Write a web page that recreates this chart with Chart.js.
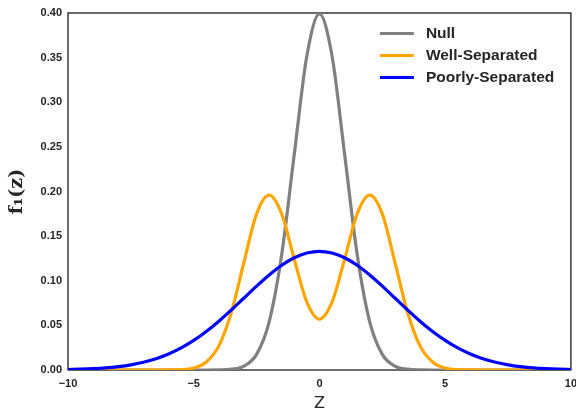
<!DOCTYPE html>
<html>
<head>
<meta charset="utf-8">
<script src="https://cdn.jsdelivr.net/npm/chart.js@4.4.1/dist/chart.umd.min.js"></script>
<style>
  html, body { margin: 0; padding: 0; overflow: hidden; background: #fff; }
  #wrap { width: 584px; height: 416px; }
</style>
</head>
<body>
<div id="wrap"><canvas id="chart"></canvas></div>
<script>
// z grid (step 0.5) and the three densities
const zValues = [-10, -9.5, -9, -8.5, -8, -7.5, -7, -6.5, -6, -5.5, -5, -4.5, -4, -3.5, -3, -2.5, -2, -1.5, -1, -0.5,
  0, 0.5, 1, 1.5, 2, 2.5, 3, 3.5, 4, 4.5, 5, 5.5, 6, 6.5, 7, 7.5, 8, 8.5, 9, 9.5, 10];

const nullDensity = [0, 0, 0, 0, 0, 0, 0, 0, 0, 0, 0, 0, 0.0001, 0.0009, 0.0044, 0.0175, 0.054, 0.1295, 0.242, 0.352,
  0.399, 0.352, 0.242, 0.1295, 0.054, 0.0175, 0.0044, 0.0009, 0.0001, 0, 0, 0, 0, 0, 0, 0, 0, 0, 0, 0, 0];

const wellSeparated = [0, 0, 0, 0, 0, 0, 0, 0, 0.0001, 0.0004, 0.0022, 0.009, 0.027, 0.065, 0.121, 0.175, 0.196, 0.175, 0.124, 0.076,
  0.057, 0.076, 0.124, 0.175, 0.196, 0.175, 0.121, 0.065, 0.027, 0.009, 0.0022, 0.0004, 0.0001, 0, 0, 0, 0, 0, 0, 0, 0];

const poorlySeparated = [0.0005, 0.0009, 0.0015, 0.0024, 0.0038, 0.0058, 0.0087, 0.0127, 0.018, 0.0248, 0.0332, 0.0432, 0.0547, 0.0673, 0.0807, 0.094, 0.1065, 0.1174, 0.1258, 0.1311,
  0.133, 0.1311, 0.1258, 0.1174, 0.1065, 0.094, 0.0807, 0.0673, 0.0547, 0.0432, 0.0332, 0.0248, 0.018, 0.0127, 0.0087, 0.0058, 0.0038, 0.0024, 0.0015, 0.0009, 0.0005];

const seriesNames = ['Null', 'Well-Separated', 'Poorly-Separated'];
const xTicks = [-10, -5, 0, 5, 10];
const yTicks = [0, 0.05, 0.1, 0.15, 0.2, 0.25, 0.3, 0.35, 0.4];

const textColor = '#262626';
const frameColor = '#3a3a3a';

function toPoints(ys) {
  return zValues.map((z, i) => ({ x: z, y: ys[i] }));
}

function line(label, ys, color, order) {
  return {
    label: label,
    data: toPoints(ys),
    borderColor: color,
    backgroundColor: color,
    borderWidth: 3.2,
    pointRadius: 0,
    fill: false,
    cubicInterpolationMode: 'monotone',
    order: order
  };
}

// frame round the plot area, like the matplotlib axes box
const framePlugin = {
  id: 'frame',
  beforeDatasetsDraw(chart) {
    const a = chart.chartArea;
    const ctx = chart.ctx;
    ctx.save();
    ctx.strokeStyle = frameColor;
    ctx.lineWidth = 1.5;
    ctx.strokeRect(a.left, a.top, a.right - a.left, a.bottom - a.top);
    ctx.restore();
  }
};

// legend drawn inside the top right of the plot
const legendPlugin = {
  id: 'innerLegend',
  afterDatasetsDraw(chart) {
    const a = chart.chartArea;
    const ctx = chart.ctx;
    ctx.save();
    ctx.font = 'bold 15.5px "Liberation Sans", Arial, sans-serif';
    ctx.textBaseline = 'middle';
    chart.data.datasets.forEach((ds, i) => {
      const y = a.top + 20.5 + i * 22;
      const x0 = a.right - 191;
      ctx.strokeStyle = ds.borderColor;
      ctx.lineWidth = 3;
      ctx.beginPath();
      ctx.moveTo(x0, y);
      ctx.lineTo(x0 + 34, y);
      ctx.stroke();
      ctx.fillStyle = textColor;
      ctx.fillText(ds.label, x0 + 46, y + 0.5);
    });
    ctx.restore();
  }
};

const tickFont = { family: '"Liberation Sans", Arial, sans-serif', size: 11, weight: 'bold' };

new Chart(document.getElementById('chart'), {
  type: 'line',
  data: {
    datasets: [
      line(seriesNames[0], nullDensity, '#808080', 3),
      line(seriesNames[1], wellSeparated, '#FFA500', 2),
      line(seriesNames[2], poorlySeparated, '#0000FF', 1)
    ]
  },
  options: {
    responsive: true,
    maintainAspectRatio: false,
    animation: false,
    layout: { padding: { top: 13, right: 12, left: 0, bottom: 0 } },
    plugins: {
      legend: { display: false },
      tooltip: { enabled: false }
    },
    scales: {
      x: {
        type: 'linear',
        min: -10,
        max: 10,
        afterBuildTicks: s => { s.ticks = xTicks.map(v => ({ value: v })); },
        afterFit: s => { s.height = 46; },
        grid: { display: false, drawTicks: false },
        border: { display: false },
        ticks: {
          padding: 7,
          color: textColor,
          font: tickFont,
          callback: v => (v < 0 ? '\u2212' + Math.abs(v) : String(v))
        },
        title: {
          display: true,
          text: 'Z',
          color: textColor,
          font: { family: '"DejaVu Sans", sans-serif', size: 16 },
          padding: { top: 2, bottom: 3 }
        }
      },
      y: {
        min: 0,
        max: 0.4,
        afterBuildTicks: s => { s.ticks = yTicks.map(v => ({ value: v })); },
        afterFit: s => { s.width = 68; },
        grid: { display: false, drawTicks: false },
        border: { display: false },
        ticks: {
          padding: 6,
          color: textColor,
          font: tickFont,
          callback: v => v.toFixed(2)
        },
        title: {
          display: true,
          text: 'f\u2081(z)',
          color: textColor,
          font: { family: '"DejaVu Serif", serif', size: 19, weight: 'bold' },
          padding: { top: 6, bottom: 0 }
        }
      }
    }
  },
  plugins: [framePlugin, legendPlugin]
});
</script>
</body>
</html>
